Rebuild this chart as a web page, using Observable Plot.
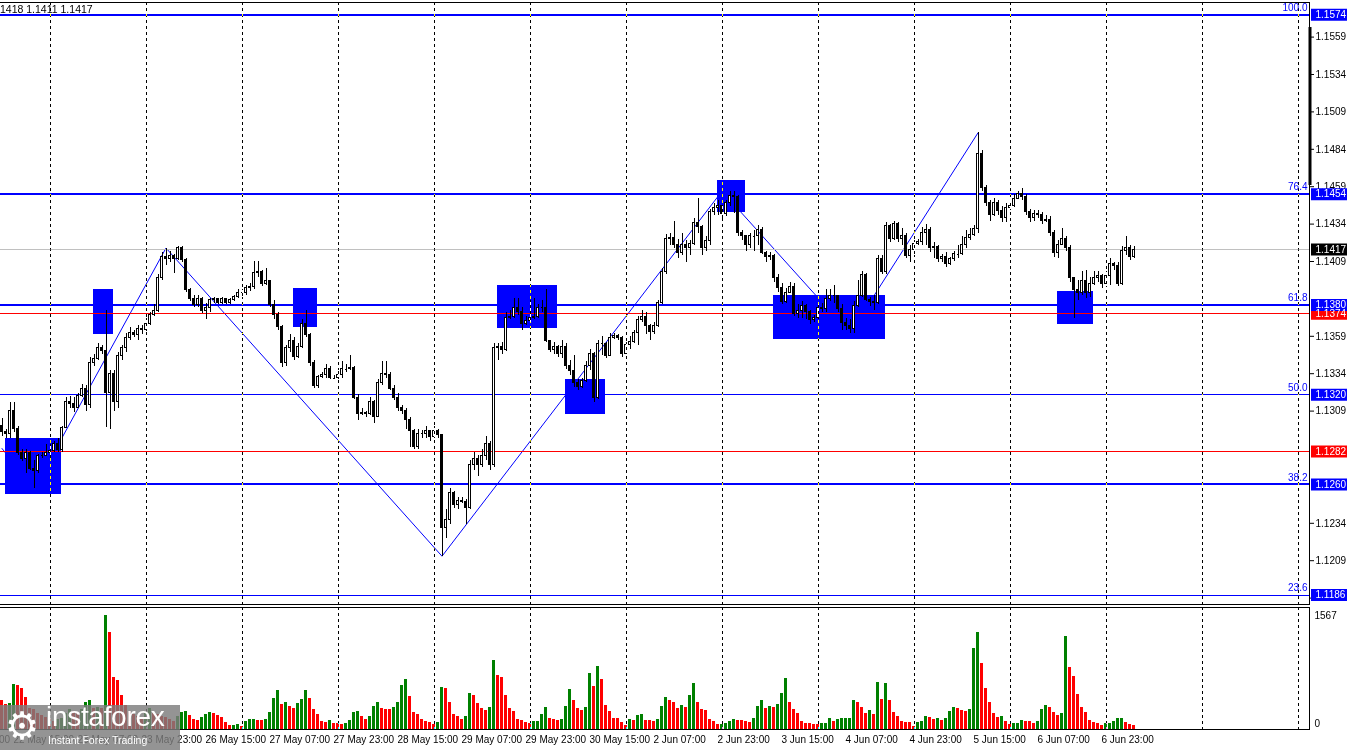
<!DOCTYPE html>
<html><head><meta charset="utf-8">
<script src="https://cdn.jsdelivr.net/npm/d3@7"></script>
<script src="https://cdn.jsdelivr.net/npm/@observablehq/plot@0.6"></script>
<style>
html,body{margin:0;padding:0;background:#fff;}
body{width:1350px;height:750px;overflow:hidden;position:relative;font-family:"Liberation Sans",Arial,sans-serif;}
#price{position:absolute;left:0;top:0;}
#vol{position:absolute;left:0;top:605px;}
#hdr{position:absolute;left:0;top:3px;font-size:10.5px;color:#000;white-space:nowrap;}
#logo{position:absolute;left:0;top:705px;width:180px;height:45px;background:rgba(125,125,125,0.82);color:#fff;overflow:hidden;}
#logo .gear{position:absolute;left:5px;top:0px;font-size:38px;line-height:42px;font-family:"DejaVu Sans",sans-serif;}
#logo .brand{position:absolute;left:46px;top:-3px;font-size:28px;line-height:30px;letter-spacing:-0.3px;}
#logo .tag{position:absolute;left:48px;top:29px;font-size:10.5px;}
</style></head><body>
<div id="price"></div>
<div id="vol"></div>
<div id="hdr"></div>
<div id="logo"><span class="gear">⚙</span><span class="brand">instaforex</span><span class="tag">Instant Forex Trading</span></div>
<script>
// ---------- data ----------
const headerText = "1418 1.1411 1.1417";
const firstOpen = 1.1299;
const closes = [
1.1295,1.1294,1.1309,1.1297,1.1281,1.1277,1.1281,1.1270,1.1269,1.1279,
1.1279,1.1281,1.1282,1.1287,1.1283,1.1298,1.1315,1.1314,1.1311,1.1319,
1.1324,1.1313,1.1341,1.1344,1.1351,1.1349,1.1321,1.1334,1.1315,1.1346,
1.1351,1.1358,1.1361,1.1360,1.1364,1.1363,1.1367,1.1373,1.1376,1.1398,
1.1412,1.1411,1.1413,1.1411,1.1418,1.1410,1.1390,1.1384,1.1380,1.1384,
1.1376,1.1378,1.1383,1.1384,1.1381,1.1384,1.1381,1.1383,1.1385,1.1388,
1.1388,1.1391,1.1392,1.1401,1.1402,1.1394,1.1396,1.1380,1.1373,1.1365,
1.1341,1.1351,1.1356,1.1345,1.1352,1.1367,1.1360,1.1341,1.1326,1.1332,
1.1333,1.1337,1.1331,1.1331,1.1333,1.1337,1.1337,1.1338,1.1318,1.1307,
1.1308,1.1307,1.1315,1.1305,1.1328,1.1334,1.1333,1.1324,1.1318,1.1311,
1.1309,1.1303,1.1296,1.1285,1.1294,1.1294,1.1296,1.1292,1.1296,1.1293,
1.1231,1.1236,1.1254,1.1246,1.1249,1.1248,1.1244,1.1273,1.1277,1.1273,
1.1279,1.1287,1.1273,1.1351,1.1352,1.1350,1.1371,1.1372,1.1378,1.1375,
1.1367,1.1369,1.1371,1.1372,1.1378,1.1378,1.1356,1.1350,1.1352,1.1347,
1.1352,1.1339,1.1336,1.1328,1.1325,1.1329,1.1339,1.1347,1.1318,1.1354,
1.1354,1.1346,1.1358,1.1359,1.1358,1.1347,1.1353,1.1355,1.1361,1.1370,
1.1372,1.1366,1.1362,1.1366,1.1381,1.1402,1.1424,1.1425,1.1420,1.1415,
1.1420,1.1418,1.1421,1.1435,1.1432,1.1418,1.1423,1.1442,1.1445,1.1446,
1.1441,1.1448,1.1453,1.1452,1.1428,1.1426,1.1420,1.1426,1.1426,1.1430,
1.1415,1.1412,1.1413,1.1398,1.1391,1.1382,1.1388,1.1392,1.1374,1.1376,
1.1379,1.1375,1.1370,1.1371,1.1378,1.1377,1.1384,1.1386,1.1386,1.1377,
1.1368,1.1366,1.1364,1.1379,1.1386,1.1400,1.1383,1.1382,1.1381,1.1411,
1.1402,1.1433,1.1424,1.1434,1.1424,1.1426,1.1413,1.1417,1.1421,1.1422,
1.1428,1.1430,1.1418,1.1419,1.1411,1.1412,1.1407,1.1411,1.1414,1.1414,
1.1420,1.1425,1.1427,1.1431,1.1481,1.1458,1.1448,1.1440,1.1448,1.1443,
1.1438,1.1445,1.1446,1.1451,1.1454,1.1452,1.1442,1.1438,1.1441,1.1440,
1.1436,1.1437,1.1428,1.1415,1.1420,1.1424,1.1418,1.1398,1.1390,1.1388,
1.1396,1.1388,1.1394,1.1398,1.1399,1.1394,1.1399,1.1407,1.1406,1.1394,
1.1416,1.1418,1.1412,1.1417];
const highs = [
1.1304,1.1297,1.1315,1.1315,1.1299,1.1283,1.1283,1.1282,1.1276,1.1280,
1.1281,1.1287,1.1287,1.1289,1.1291,1.1299,1.1318,1.1319,1.1318,1.1321,
1.1327,1.1326,1.1345,1.1347,1.1354,1.1353,1.1376,1.1336,1.1336,1.1348,
1.1353,1.1361,1.1365,1.1363,1.1366,1.1366,1.1371,1.1375,1.1380,1.1400,
1.1415,1.1418,1.1416,1.1414,1.1419,1.1419,1.1411,1.1391,1.1386,1.1386,
1.1385,1.1381,1.1384,1.1385,1.1384,1.1385,1.1384,1.1384,1.1386,1.1390,
1.1390,1.1393,1.1394,1.1409,1.1409,1.1403,1.1404,1.1396,1.1383,1.1375,
1.1366,1.1353,1.1360,1.1358,1.1354,1.1370,1.1376,1.1361,1.1343,1.1333,
1.1335,1.1340,1.1339,1.1333,1.1336,1.1342,1.1340,1.1346,1.1339,1.1320,
1.1311,1.1309,1.1318,1.1316,1.1330,1.1342,1.1342,1.1335,1.1326,1.1321,
1.1313,1.1311,1.1305,1.1297,1.1297,1.1296,1.1299,1.1296,1.1299,1.1297,
1.1293,1.1243,1.1257,1.1255,1.1251,1.1251,1.1250,1.1276,1.1281,1.1279,
1.1283,1.1292,1.1289,1.1354,1.1354,1.1355,1.1375,1.1376,1.1384,1.1384,
1.1378,1.1372,1.1383,1.1384,1.1380,1.1383,1.1390,1.1356,1.1355,1.1353,
1.1356,1.1354,1.1343,1.1346,1.1330,1.1331,1.1342,1.1350,1.1348,1.1356,
1.1359,1.1355,1.1361,1.1361,1.1360,1.1359,1.1355,1.1359,1.1363,1.1372,
1.1376,1.1375,1.1367,1.1368,1.1383,1.1404,1.1427,1.1428,1.1436,1.1424,
1.1428,1.1423,1.1423,1.1438,1.1451,1.1433,1.1426,1.1444,1.1448,1.1450,
1.1446,1.1450,1.1456,1.1456,1.1453,1.1430,1.1426,1.1428,1.1430,1.1433,
1.1432,1.1416,1.1415,1.1414,1.1400,1.1394,1.1391,1.1395,1.1394,1.1380,
1.1382,1.1380,1.1376,1.1373,1.1380,1.1381,1.1390,1.1390,1.1393,1.1386,
1.1380,1.1371,1.1370,1.1382,1.1396,1.1402,1.1401,1.1385,1.1386,1.1413,
1.1413,1.1435,1.1434,1.1436,1.1435,1.1431,1.1428,1.1420,1.1423,1.1424,
1.1432,1.1434,1.1432,1.1422,1.1420,1.1414,1.1415,1.1412,1.1416,1.1420,
1.1426,1.1430,1.1431,1.1433,1.1495,1.1483,1.1460,1.1450,1.1451,1.1450,
1.1446,1.1448,1.1450,1.1454,1.1456,1.1458,1.1454,1.1444,1.1443,1.1443,
1.1442,1.1440,1.1439,1.1430,1.1423,1.1431,1.1426,1.1420,1.1398,1.1396,
1.1402,1.1403,1.1398,1.1402,1.1402,1.1400,1.1402,1.1411,1.1408,1.1408,
1.1419,1.1426,1.1420,1.1419];
const lows = [
1.1292,1.1291,1.1291,1.1295,1.1279,1.1275,1.1267,1.1269,1.1257,1.1267,
1.1277,1.1279,1.1277,1.1281,1.1281,1.1281,1.1298,1.1311,1.1308,1.1311,
1.1318,1.1309,1.1311,1.1339,1.1343,1.1347,1.1298,1.1297,1.1309,1.1311,
1.1343,1.1348,1.1356,1.1358,1.1356,1.1360,1.1362,1.1366,1.1372,1.1375,
1.1396,1.1406,1.1408,1.1401,1.1410,1.1408,1.1388,1.1382,1.1378,1.1378,
1.1374,1.1370,1.1375,1.1381,1.1380,1.1380,1.1380,1.1380,1.1382,1.1384,
1.1385,1.1386,1.1389,1.1390,1.1398,1.1392,1.1393,1.1378,1.1370,1.1363,
1.1338,1.1339,1.1348,1.1343,1.1344,1.1351,1.1358,1.1339,1.1324,1.1324,
1.1331,1.1331,1.1330,1.1330,1.1330,1.1331,1.1335,1.1336,1.1317,1.1303,
1.1306,1.1305,1.1306,1.1301,1.1305,1.1326,1.1331,1.1323,1.1316,1.1309,
1.1307,1.1297,1.1285,1.1283,1.1283,1.1291,1.1291,1.1289,1.1291,1.1291,
1.1212,1.1224,1.1233,1.1244,1.1243,1.1247,1.1233,1.1243,1.1269,1.1265,
1.1271,1.1276,1.1269,1.1271,1.1343,1.1347,1.1349,1.1370,1.1371,1.1373,
1.1363,1.1366,1.1368,1.1370,1.1371,1.1375,1.1355,1.1348,1.1347,1.1345,
1.1344,1.1337,1.1333,1.1325,1.1323,1.1324,1.1328,1.1336,1.1315,1.1317,
1.1346,1.1344,1.1346,1.1357,1.1356,1.1345,1.1350,1.1350,1.1354,1.1353,
1.1368,1.1360,1.1356,1.1360,1.1365,1.1380,1.1400,1.1420,1.1418,1.1411,
1.1413,1.1408,1.1413,1.1420,1.1428,1.1413,1.1416,1.1420,1.1440,1.1440,
1.1438,1.1439,1.1446,1.1441,1.1426,1.1423,1.1416,1.1418,1.1416,1.1420,
1.1414,1.1408,1.1410,1.1395,1.1388,1.1380,1.1381,1.1390,1.1372,1.1371,
1.1371,1.1370,1.1367,1.1368,1.1370,1.1375,1.1375,1.1382,1.1381,1.1375,
1.1363,1.1363,1.1361,1.1361,1.1378,1.1385,1.1382,1.1379,1.1376,1.1380,
1.1400,1.1400,1.1422,1.1423,1.1422,1.1420,1.1411,1.1408,1.1413,1.1420,
1.1420,1.1420,1.1415,1.1411,1.1408,1.1408,1.1405,1.1406,1.1409,1.1411,
1.1413,1.1418,1.1423,1.1426,1.1428,1.1456,1.1446,1.1436,1.1439,1.1440,
1.1435,1.1435,1.1443,1.1445,1.1451,1.1450,1.1440,1.1435,1.1436,1.1438,
1.1434,1.1435,1.1426,1.1412,1.1411,1.1420,1.1416,1.1395,1.1371,1.1383,
1.1386,1.1384,1.1385,1.1393,1.1395,1.1391,1.1392,1.1393,1.1403,1.1392,
1.1393,1.1413,1.1410,1.1411];
const volumes = [
405,338,351,621,608,567,446,284,270,216,
189,162,135,108,135,149,216,270,243,216,
270,365,392,284,297,290,1567,1337,716,675,
473,324,243,203,176,162,230,284,216,203,
176,162,135,108,176,230,243,189,135,130,
162,203,230,216,189,162,95,54,58,68,
41,108,135,138,122,118,135,230,432,540,
338,365,311,284,351,419,540,432,270,203,
108,95,122,81,78,75,81,122,230,243,
176,135,176,311,365,284,280,276,297,378,
608,689,459,230,203,135,108,95,68,95,
581,570,365,203,176,135,176,500,473,351,
284,257,297,945,743,716,473,284,243,135,
130,95,81,108,112,203,297,149,135,122,
135,311,554,392,284,257,297,770,594,864,
689,324,243,149,145,95,54,135,122,189,
203,122,118,115,135,311,446,392,365,284,
324,297,473,635,365,270,257,135,108,68,
72,81,108,135,130,125,115,95,149,311,
392,284,311,305,338,500,702,365,270,216,
108,81,78,75,68,81,85,149,108,135,
149,153,157,392,378,297,216,257,203,648,
419,635,405,230,176,108,95,92,41,95,
108,176,170,135,149,122,149,243,297,284,
257,250,270,1107,1337,905,567,365,216,162,
176,108,68,81,85,122,108,104,81,108,
270,324,297,230,189,216,1283,851,729,486,
297,230,122,95,81,54,81,85,108,149,
153,95,68,54];
const volumeMax = 1567;

const fibLabels = ["100.0", "76.4", "61.8", "50.0", "38.2", "23.6"];
const fibPrices = [1.1574, 1.1454, 1.1380, 1.1320, 1.1260, 1.1186];
const fibWeights = [2, 2, 2, 1, 2, 1];
const redLevels = [1.1374, 1.1282];
const lastPrice = 1.1417;
// price-axis labels (the ones at 1.1384, 1.1284 and 1.1259 sit fully behind the level boxes)
const priceTicks = [1.1559,1.1534,1.1509,1.1484,1.1459,1.1434,1.1409,1.1359,1.1334,1.1309,1.1234,1.1209,1.1184];

const zigzagBars = [0, 8, 41, 110, 180, 212, 244];
const zigzagPrices = [1.1284, 1.1257, 1.1418, 1.1212, 1.1456, 1.1361, 1.1495];

const zoneStart = [1, 23, 73, 124, 141, 179, 193, 264];
const zoneEnd   = [15, 28, 79, 139, 151, 186, 221, 273];
const zoneTop   = [1.1291, 1.1390, 1.1391, 1.1393, 1.1330, 1.1463, 1.1386, 1.1389];
const zoneBottom= [1.1253, 1.1360, 1.1365, 1.1364, 1.1307, 1.1442, 1.1357, 1.1367];

const timeLabels = ["21 May 23:00","22 May 15:00","23 May 07:00","23 May 23:00","26 May 15:00","27 May 07:00","27 May 23:00","28 May 15:00","29 May 07:00","29 May 23:00","30 May 15:00","2 Jun 07:00","2 Jun 23:00","3 Jun 15:00","4 Jun 07:00","4 Jun 23:00","5 Jun 15:00","6 Jun 07:00","6 Jun 23:00"];
const scrollRange = [1.14598, 1.15654];

// ---------- derived tables ----------
document.getElementById("hdr").textContent = headerText;
const months = ["Jan","Feb","Mar","Apr","May","Jun","Jul","Aug","Sep","Oct","Nov","Dec"];
const t0 = Date.UTC(2025, 4, 22, 12);
const HOUR = 3600e3;
const bars = d3.range(-20, 331);
const timeMap = new Map();
{ // hourly bars, weekends skipped
  let t = t0, n = 0; timeMap.set(0, new Date(t));
  while (n < 330) { t += HOUR; const wd = new Date(t).getUTCDay(); if (wd !== 0 && wd !== 6) { n++; timeMap.set(n, new Date(t)); } }
  t = t0; n = 0;
  while (n > -20) { t -= HOUR; const wd = new Date(t).getUTCDay(); if (wd !== 0 && wd !== 6) { n--; timeMap.set(n, new Date(t)); } }
}
const fmt = d => `${d.getUTCDate()} ${months[d.getUTCMonth()]} ${String(d.getUTCHours()).padStart(2,"0")}:00`;
const xMax = 327;
const gridBars = bars.filter(i => i >= 0 && i <= xMax && timeMap.get(i).getUTCHours() === 0);
const labelBars = timeLabels.map(s => bars.find(i => fmt(timeMap.get(i)) === s));
const labelOf = new Map(labelBars.map((b, k) => [b, timeLabels[k]]));

const candles = closes.map((c, i) => {
  const o = i ? closes[i - 1] : firstOpen;
  return {i, open: o, close: c, high: Math.max(highs[i], o, c), low: Math.min(lows[i], o, c)};
});
const dojis = candles.filter(d => d.open === d.close);
const vols = volumes.map((v, i) => ({i, v, up: i > 0 && v > volumes[i - 1]}));
const fibs = fibPrices.map((p, k) => ({price: p, label: fibLabels[k], w: fibWeights[k]}));
const zig = zigzagBars.map((b, k) => ({bar: b, price: zigzagPrices[k]}));
const zones = zoneStart.map((s, k) => ({b1: s, b2: zoneEnd[k], top: zoneTop[k], bottom: zoneBottom[k]}));
const axisBoxes = [
  {price: lastPrice, bg: "#000000"},
  ...redLevels.map(p => ({price: p, bg: "#ff0000"})),
  ...fibPrices.map(p => ({price: p, bg: "#0000ff"}))
];

const FONT = "'Liberation Sans', Arial, sans-serif";
const xScale = {domain: [-0.25, xMax], range: [0, 1309], axis: null};

// ---------- price panel ----------
const price = Plot.plot({
  width: 1350, height: 606, marginTop: 2, marginBottom: 2, marginLeft: -1, marginRight: 41,
  x: xScale,
  y: {domain: [1.118039, 1.158213], range: [603, 2], axis: null},
  style: {fontFamily: FONT, fontSize: "10px", color: "black", background: "white"},
  marks: [
    Plot.frame({fill: "white"}),
    Plot.line(zig, {x: "bar", y: "price", stroke: "#0000ff", strokeWidth: 1, dx: 0.5}),
    Plot.rect(zones, {x1: "b1", x2: "b2", y1: "bottom", y2: "top", fill: "#0000ff", shapeRendering: "crispEdges"}),
    Plot.ruleY(fibs, {y: "price", stroke: "#0000ff", strokeWidth: "w", shapeRendering: "crispEdges"}),
    Plot.ruleY(redLevels, {stroke: "#ff0000", shapeRendering: "crispEdges"}),
    Plot.ruleY([lastPrice], {stroke: "#c0c0c0", shapeRendering: "crispEdges"}),
    Plot.ruleX(candles, {x: "i", y1: "low", y2: "high", stroke: "black", dx: 0.5, shapeRendering: "crispEdges"}),
    Plot.rect(candles, {x1: d => d.i - 0.25, x2: d => d.i + 0.25, y1: "open", y2: "close", dx: 0.5,
      fill: d => d.close >= d.open ? "white" : "black", stroke: "black", shapeRendering: "crispEdges"}),
    Plot.ruleY(dojis, {y: "close", x1: d => d.i - 0.25, x2: d => d.i + 0.25, dx: 0.5, stroke: "black", shapeRendering: "crispEdges"}),
    Plot.ruleX(gridBars, {stroke: "white", strokeDasharray: "3,3", dx: 0.5, mixBlendMode: "difference", shapeRendering: "crispEdges"}),
    Plot.text(fibs, {y: "price", text: "label", frameAnchor: "right", textAnchor: "end", dx: -2, dy: -7, fill: "#0000ff"}),
    Plot.frame({stroke: "black"}),
    Plot.ruleX([xMax], {y1: scrollRange[0], y2: scrollRange[1], stroke: "black", strokeWidth: 3, dx: 0.5}),
    Plot.axisY({anchor: "right", ticks: priceTicks, tickFormat: d3.format(".4f"), tickSize: 4, tickPadding: 2, fill: "black", stroke: "black"}),
    Plot.ruleY(axisBoxes, {y: "price", x1: () => xMax + 0.5, x2: () => xMax + 9.5, stroke: "bg", strokeWidth: 12}),
    Plot.text(axisBoxes, {y: "price", text: d => d.price.toFixed(4), frameAnchor: "right", textAnchor: "start", dx: 6, fill: "white"})
  ]
});
document.getElementById("price").appendChild(price);

// ---------- volume panel ----------
const vol = Plot.plot({
  width: 1350, height: 145, marginTop: 2, marginBottom: 21, marginLeft: -1, marginRight: 41,
  x: xScale,
  y: {domain: [0, volumeMax], range: [124, 10], axis: null},
  style: {fontFamily: FONT, fontSize: "10px", color: "black"},
  marks: [
    Plot.frame({fill: "white"}),
    Plot.rect(vols, {x1: d => d.i - 0.25, x2: d => d.i + 0.5, y1: 0, y2: "v", fill: d => d.up ? "#008000" : "#ff0000", shapeRendering: "crispEdges"}),
    Plot.ruleX(gridBars, {stroke: "white", strokeDasharray: "3,3", dx: 0.5, mixBlendMode: "difference", shapeRendering: "crispEdges"}),
    Plot.frame({stroke: "black"}),
    Plot.text([volumeMax], {y: d => d, text: d => String(d), frameAnchor: "right", textAnchor: "start", dx: 5, fill: "black"}),
    Plot.text([0], {y: d => d, text: d => String(d), frameAnchor: "right", textAnchor: "start", dx: 5, dy: -6, fill: "black"}),
    Plot.axisX({anchor: "bottom", ticks: labelBars, tickFormat: d => labelOf.get(d), textAnchor: "start", tickSize: 0, tickPadding: 6, dx: 0, fill: "black"})
  ]
});
document.getElementById("vol").appendChild(vol);
</script>
</body></html>
